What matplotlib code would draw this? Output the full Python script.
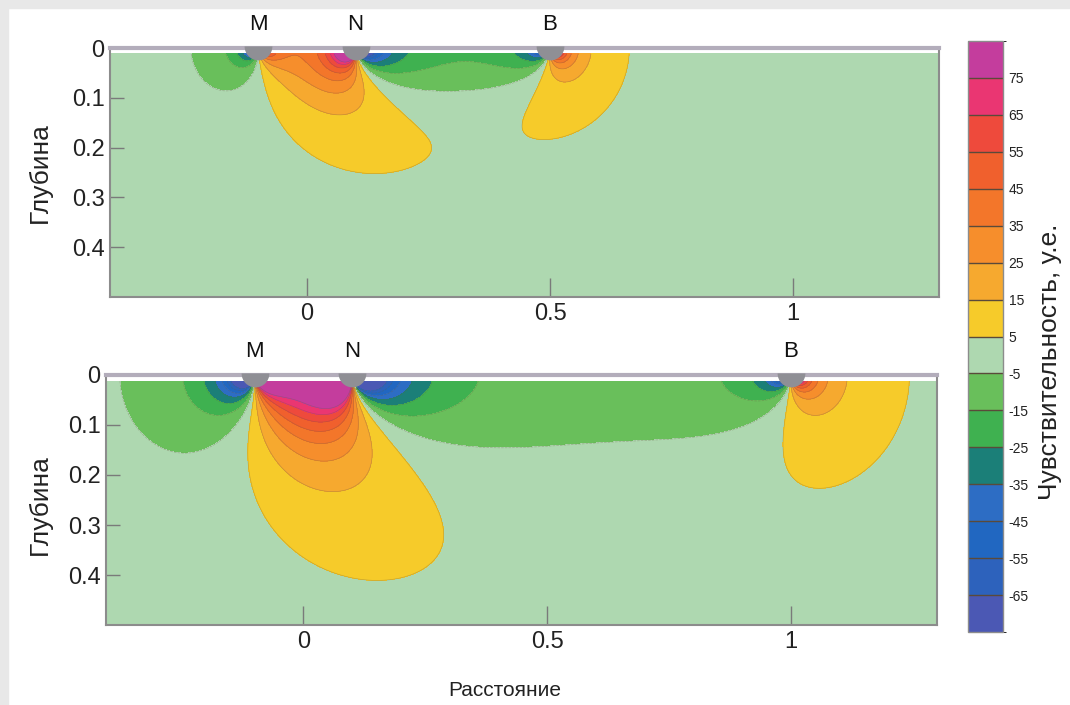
import numpy as np
import matplotlib
matplotlib.use("Agg")
import matplotlib.pyplot as plt
from matplotlib.colors import ListedColormap, BoundaryNorm
from matplotlib.cm import ScalarMappable

plt.rcParams['font.family'] = ['Liberation Sans', 'DejaVu Sans']
plt.rcParams['axes.unicode_minus'] = False

# ---------------- data ----------------
level_bounds = [-75, -65, -55, -45, -35, -25, -15, -5, 5, 15, 25, 35, 45, 55, 65, 75, 85]
cbar_ticks = [-65, -55, -45, -35, -25, -15, -5, 5, 15, 25, 35, 45, 55, 65, 75]
level_colors = ['#4b58b4', '#2d62bc', '#2167c1', '#2d6dc4', '#1b7f78', '#3fb150',
                '#69bf5b', '#aed8b0', '#f6cb2a', '#f6a92f', '#f68e2c', '#f3762a',
                '#f0602d', '#ee4a3c', '#ea3672', '#c43d9d']

x_ticks = [0, 0.5, 1]
x_ticklabels = ['0', '0.5', '1']
y_ticks = [0, 0.1, 0.2, 0.3, 0.4]
y_ticklabels = ['0', '0.1', '0.2', '0.3', '0.4']

electrode_names = ['M', 'N', 'B']
top_electrodes = [-0.1, 0.1, 0.5]
bottom_electrodes = [-0.1, 0.1, 1.0]

# anchor points: (x, depth, value)
top_anchor = (0.15, 0.252, 5.0)
bottom_anchor = (0.13, 0.41, 5.0)

x_range = (-0.405, 1.30)
depth_range = (0.012, 0.5)


def sensitivity(X, Z, xm, xn, xb):
    """2-D sensitivity of a pole-dipole array: 3-D kernel integrated along strike."""
    a, n_u = 0.01, 160
    u = np.linspace(0.0, np.arcsinh(200.0 / a), n_u)
    du = u[1] - u[0]
    total = np.zeros_like(X)
    z2 = Z ** 2
    dxb = X - xb
    dxm = X - xm
    dxn = X - xn
    for i, ui in enumerate(u):
        y = a * np.sinh(ui)
        w = a * np.cosh(ui) * du * (0.5 if i in (0, n_u - 1) else 1.0)
        yz = y * y + z2
        rb3 = (dxb ** 2 + yz) ** 1.5
        rm3 = (dxm ** 2 + yz) ** 1.5
        rn3 = (dxn ** 2 + yz) ** 1.5
        val = (dxb * dxm + yz) / (rb3 * rm3) - (dxb * dxn + yz) / (rb3 * rn3)
        total += 2.0 * w * val
    return total


cmap = ListedColormap(level_colors)
norm = BoundaryNorm(level_bounds, cmap.N)

fig = plt.figure(figsize=(10.7, 7.05), dpi=100)
fig.patch.set_facecolor('white')
fig.patches.append(plt.Rectangle((0, 1 - 8 / 705), 1, 8 / 705, transform=fig.transFigure,
                                 color='#e8e8e8', zorder=-10))
fig.patches.append(plt.Rectangle((0, 0), 8 / 1070, 1, transform=fig.transFigure,
                                 color='#e8e8e8', zorder=-10))

ax_top = fig.add_axes([110 / 1070, 1 - 297 / 705, 829 / 1070, 249 / 705])
ax_bot = fig.add_axes([106 / 1070, 1 - 625 / 705, 831 / 1070, 250 / 705])

xs = np.linspace(x_range[0], x_range[1], 600)
zs = np.linspace(depth_range[0], depth_range[1], 260)
X, Z = np.meshgrid(xs, zs)

for ax, elec, anchor, ycen in [(ax_top, top_electrodes, top_anchor, 173),
                               (ax_bot, bottom_electrodes, bottom_anchor, 505)]:
    xm, xn, xb = elec
    F = sensitivity(X, Z, xm, xn, xb)
    ax0 = np.array([[anchor[0]]]); az0 = np.array([[anchor[1]]])
    c = anchor[2] / sensitivity(ax0, az0, xm, xn, xb)[0, 0]
    F = np.clip(F * c, -74.9, 84.9)
    ax.contourf(X, Z, F, levels=level_bounds, cmap=cmap, norm=norm)
    ax.contour(X, Z, F, levels=cbar_ticks, colors='#6a5a40', linewidths=0.5, alpha=0.35)

    ax.set_xlim(*x_range)
    ax.set_ylim(depth_range[1], 0)
    ax.set_facecolor('white')
    for s in ['left', 'right', 'bottom']:
        ax.spines[s].set_color('#8c8c8c')
        ax.spines[s].set_linewidth(1.5)
    ax.spines['top'].set_color('#b3adbb')
    ax.spines['top'].set_linewidth(3)

    ax.set_xticks(x_ticks)
    ax.set_xticklabels(x_ticklabels)
    ax.set_yticks(y_ticks)
    ax.set_yticklabels(y_ticklabels)
    ax.tick_params(axis='x', direction='in', length=14, width=1, color='#7a7a7a',
                   labelsize=17, pad=4, labelcolor='#222222')
    ax.tick_params(axis='y', direction='in', length=10, width=1, color='#7a7a7a',
                   labelsize=17, pad=4, labelcolor='#222222')
    fig.text(40 / 1070, 1 - ycen / 705, 'Глубина', rotation=90, fontsize=19,
             ha='center', va='center', color='#222222')

    for name, xe in zip(electrode_names, elec):
        ax.plot([xe], [-0.004], marker='o', fillstyle='bottom', markersize=20,
                markerfacecolor='#8f8f95', markerfacecoloralt='none',
                markeredgewidth=0, clip_on=False, zorder=5)
        ax.text(xe, -0.047, name, fontsize=16, ha='center', va='center', color='#111111')

fig.text(505 / 1070, 1 - 690 / 705, 'Расстояние', fontsize=15, ha='center', va='center',
         color='#222222')

cax = fig.add_axes([968 / 1070, 1 - 632 / 705, 35 / 1070, 591 / 705])
cb = fig.colorbar(ScalarMappable(norm=norm, cmap=cmap), cax=cax, ticks=cbar_ticks,
                  drawedges=True)
cb.outline.set_edgecolor('#8c8c8c')
cb.outline.set_linewidth(1)
cb.dividers.set_color('#5a4a3a')
cb.dividers.set_linewidth(1)
cax.tick_params(length=0, labelsize=10, pad=4, labelcolor='#222222')
fig.text(1050 / 1070, 1 - 362 / 705, 'Чувствительность, у.е.', rotation=90, fontsize=19,
         ha='center', va='center', color='#222222')

fig.savefig('out.png', dpi=100)
